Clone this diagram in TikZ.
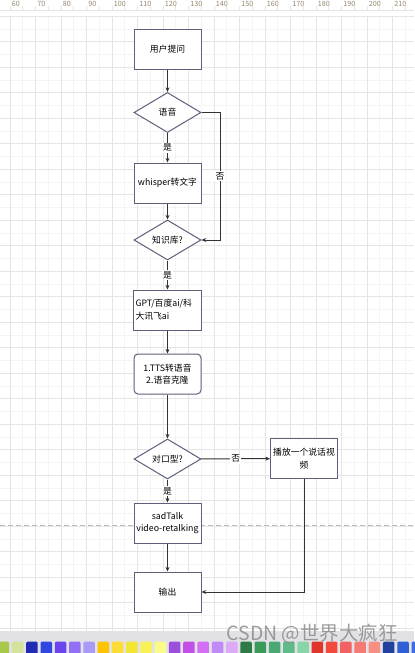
\documentclass[tikz,border=0pt]{standalone}
\usepackage{fontspec}
\setmainfont{Noto Sans CJK SC}
\usetikzlibrary{positioning,shapes.geometric,arrows.meta}

\definecolor{boxline}{RGB}{92,96,122}
\definecolor{flowline}{RGB}{51,51,51}
\definecolor{gridminor}{RGB}{244,244,244}
\definecolor{gridmajor}{RGB}{229,229,229}
\definecolor{rulertext}{RGB}{150,135,110}
\definecolor{paletteband}{RGB}{226,225,230}
\definecolor{pagebreak}{RGB}{190,190,190}

\begin{document}
\begin{tikzpicture}[x=0.75pt, y=-0.75pt, >={Stealth[length=3.5pt,width=3pt]},
  every node/.style={font=\fontsize{6.6}{9.5}\selectfont},
  box/.style={draw=boxline, line width=0.75pt, fill=white, minimum width=50.25pt, minimum height=30pt, align=center, inner sep=1.5pt},
  decision/.style={draw=boxline, line width=0.75pt, fill=white, diamond, aspect=1.675, minimum width=50.25pt, minimum height=30pt, inner sep=0pt},
  flow/.style={->, draw=flowline, line width=0.75pt},
  tag/.style={fill=white, inner sep=1pt},
  rulernum/.style={font=\fontsize{5.4}{5.4}\selectfont, text=rulertext, inner sep=0pt, anchor=west}]
\fill[white] (0,0) rectangle (414,653);
\useasboundingbox (0,0) rectangle (414,653);
% grid and ruler
\foreach \k in {-1,...,31} \draw[gridminor, line width=0.75pt] ({10+12.75*\k},16) -- ({10+12.75*\k},631);
\foreach \k in {0,...,48} \draw[gridminor, line width=0.75pt] (0,{16.3+12.75*\k}) -- (414,{16.3+12.75*\k});
\foreach \k in {0,...,15} \draw[gridmajor, line width=0.75pt] ({10+25.5*\k},16) -- ({10+25.5*\k},631);
\foreach \k in {0,...,24} \draw[gridmajor, line width=0.75pt] (0,{16.3+25.5*\k}) -- (414,{16.3+25.5*\k});
\draw[gridmajor, line width=0.75pt] (0,10.3) -- (414,10.3);
\foreach \k in {0,...,31} \draw[gridmajor, line width=0.5pt] ({10+12.75*\k},6) -- ({10+12.75*\k},10.3);
\foreach \k [evaluate=\k as \v using int(60+10*\k)] in {0,...,15}
  \node[rulernum] (r\k) at ({11.5+25.5*\k},4) {\v};
% page break
\draw[pagebreak, dash pattern=on 4pt off 2pt, line width=0.6pt] (0,525.7) -- (414,525.7);
% palette
\fill[paletteband] (0,631) rectangle (414,653);
\foreach \c [count=\k from 0] in {A6C94A,D5E39A,1F2BB0,2F47E0,6B44F0,9170F5,A89BF5,FFC400,FDDC36,F2E533,F8F257,FAFC8A,9B4FDC,C24FE6,D46FF5,C08AF7,DDAAF7,2E7A47,3A9A59,4AA872,5FBB88,8AD5A8,E1352A,F2493B,F26262,F47A73,F88F85,2140A0,2F5FD4,3A6FE0}
  {\definecolor{swatch}{HTML}{\c}
   \fill[swatch, rounded corners=1pt] ({-2.3+14.27*\k},641.5) rectangle +(11.5,13);}
% flow
\node[box] (ask) at (167.5,49) {用户提问};
\node[decision] (voice) at (167.5,112.5) {语音};
\node[box] (whisper) at (167.5,183) {whisper转文字};
\node[decision] (kb) at (167.5,240) {知识库?};
\node[box, text width=48pt, align=left] (llm) at (167.5,310) {GPT/百度ai/科\\大讯飞ai};
\node[box, rounded corners=3pt] (tts) at (167.5,374) {1.TTS转语音\\2.语音克隆};
\node[decision] (lip) at (167.5,459) {对口型?};
\node[box] (play) at (304,458.5) {播放一个说话视\\频};
\node[box] (sadtalk) at (167.5,523) {sadTalk\\video-retalking};
\node[box] (out) at (167.5,592) {输出};
\coordinate (voiceno) at (220,112.5);

\draw[flow] (ask) -- (voice);
\draw[flow] (voice) -- node[tag] {是} (whisper);
\draw[flow] (voice.east) -- (voiceno) |- node[tag, pos=0.25] {否} (kb.east);
\draw[flow] (whisper) -- (kb);
\draw[flow] (kb) -- node[tag] {是} (llm);
\draw[flow] (llm) -- (tts);
\draw[flow] (tts) -- (lip);
\draw[flow] (lip) -- node[tag] {否} (play);
\draw[flow] (lip) -- node[tag] {是} (sadtalk);
\draw[flow] (sadtalk) -- (out);
\draw[flow] (play.south) |- (out.east);

\node[font=\fontsize{14.6}{14.6}\selectfont, text=black!45, opacity=0.85, anchor=east, inner sep=0pt] (mark) at (398,634) {CSDN @世界大疯狂};
\end{tikzpicture}
\end{document}
